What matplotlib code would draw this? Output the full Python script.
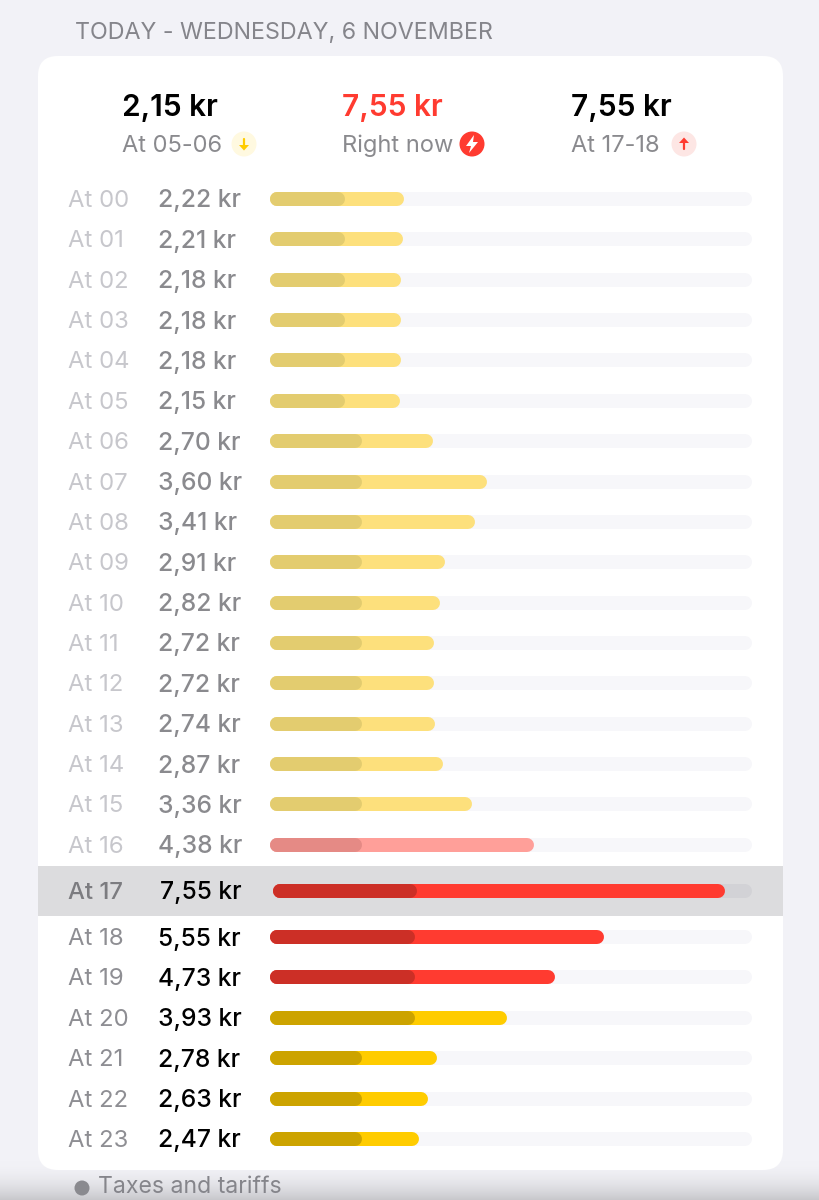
import numpy as np
import matplotlib
matplotlib.use('Agg')
import matplotlib.pyplot as plt
from matplotlib.patches import FancyBboxPatch, Circle, Polygon, Rectangle

hours = ['00', '01', '02', '03', '04', '05', '06', '07', '08', '09', '10', '11',
         '12', '13', '14', '15', '16', '17', '18', '19', '20', '21', '22', '23']
prices = [2.22, 2.21, 2.18, 2.18, 2.18, 2.15, 2.70, 3.60, 3.41, 2.91, 2.82, 2.72,
          2.72, 2.74, 2.87, 3.36, 4.38, 7.55, 5.55, 4.73, 3.93, 2.78, 2.63, 2.47]
taxes = [1.25, 1.25, 1.25, 1.25, 1.25, 1.25, 1.53, 1.53, 1.53, 1.53, 1.53, 1.53,
         1.53, 1.53, 1.53, 1.53, 1.53, 2.40, 2.40, 2.40, 2.40, 1.53, 1.53, 1.53]
summary_values = ['2,15 kr', '7,55 kr', '7,55 kr']
summary_labels = ['At 05-06', 'Right now', 'At 17-18']

NOW = 17
MAX_PRICE = 8.0
W, H = 820, 1200
DPI = 100

plt.rcParams['font.family'] = ['Inter', 'DejaVu Sans']


def fmt(value):
    return f'{value:.2f}'.replace('.', ',') + ' kr'


def row_y(i):
    # the current hour sits in a taller band, so rows after it shift down
    y = 199 + i * 40.36
    if i == NOW:
        y += 5.5
    elif i > NOW:
        y += 11.6
    return y


def bar_colors(i, price):
    if i < NOW:
        return ('#ff9f99', '#e58a85') if price >= 4 else ('#fde07c', '#e3cc6f')
    return ('#ff3b30', '#cc2f26') if price >= 4 else ('#ffcc00', '#cca300')


def round_bar(ax, start, stop, y, color, zorder):
    # round caps stick out by half the line width, pull the ends in by that much
    r = 7 / (482 / MAX_PRICE)
    ax.plot([start + r, stop - r], [y, y], color=color, lw=14 * 72 / DPI,
            solid_capstyle='round', zorder=zorder)


def arrow_icon(ax, x, y, direction, color, back):
    ax.add_patch(Circle((x, y), 12.5, fc=back, ec='none', zorder=3))
    ax.plot([x, x], [y - 5 * direction, y + 2 * direction], color=color, lw=1.6, zorder=4,
            solid_capstyle='round')
    ax.add_patch(Polygon([(x - 5, y + 1 * direction), (x + 5, y + 1 * direction), (x, y + 6.5 * direction)],
                         fc=color, ec='none', zorder=4))


fig = plt.figure(figsize=(W / DPI, H / DPI), dpi=DPI)

# page layer in pixel coordinates, y going down like the screenshot
page = fig.add_axes([0, 0, 1, 1])
page.axis('off')

shade = np.linspace(0, 1, 40)[:, None]
base = np.array([0xf2, 0xf2, 0xf7]) / 255
bottom = np.array([0xc8, 0xc8, 0xcc]) / 255
gradient = base + (bottom - base) * shade[:, :, None] ** 2
page.imshow(np.ones((2, 2, 3)) * base, extent=(0, W, H, 0), aspect='auto', zorder=0)
page.imshow(gradient, extent=(0, W, H, 1160), aspect='auto', zorder=0.5)
page.set_xlim(0, W)
page.set_ylim(H, 0)

page.add_patch(FancyBboxPatch((38 + 20, 56 + 20), 745 - 40, 1114 - 40,
                              boxstyle='round,pad=20,rounding_size=20',
                              fc='white', ec='none', zorder=1))
page.add_patch(Rectangle((38, 866), 745, 50, fc='#dcdcde', ec='none', zorder=2))

page.text(75, 33, 'TODAY - WEDNESDAY, 6 NOVEMBER', fontsize=16.75, color='#85858b',
          va='center', ha='left', zorder=3)
page.add_patch(Circle((82, 1188), 7.5, fc='#8a8a8f', ec='none', zorder=3))
page.text(98, 1198, 'Taxes and tariffs', fontsize=16.6, color='#85858b',
          va='bottom', ha='left', zorder=3)

# summary header
for x, value, label, color in zip([122, 342, 571], summary_values, summary_labels,
                                  ['black', '#ff3b30', 'black']):
    page.text(x, 108, value, fontsize=21.5, fontweight='semibold', color=color,
              va='center', ha='left', zorder=3)
    page.text(x, 146, label, fontsize=17, color='#8a8a8e', va='center', ha='left', zorder=3)

arrow_icon(page, 244, 144, 1, '#ffcc00', '#fff9e0')
arrow_icon(page, 684, 144, -1, '#ff3b30', '#fde6e4')
page.add_patch(Circle((472, 144), 12.5, fc='#ff3b30', ec='none', zorder=3))
page.add_patch(Polygon([(474, 135), (466, 146), (471, 146), (469, 153), (478, 142), (473, 142)],
                       fc='white', ec='none', zorder=4))

# rows
for i, (hour, price) in enumerate(zip(hours, prices)):
    y = row_y(i) + 2
    past = i < NOW
    hour_color = '#c7c7cc' if past else '#8e8e93'
    price_color = '#8a8a8e' if past else 'black'
    if i == NOW:
        hour_color = '#7c7c80'
    page.text(68, y, f'At {hour}', fontsize=17.2, color=hour_color, va='center', ha='left',
              zorder=3, fontweight='medium' if i == NOW else 'normal')
    page.text(158.5 + (1.5 if i == NOW else 0), y, fmt(price), fontsize=17.7, color=price_color,
              va='center', ha='left', zorder=3, fontweight='medium')

# bars use a kr scale across the 482 px track
bars = fig.add_axes([270 / W, 0, 482 / W, 1], zorder=5)
bars.patch.set_alpha(0)
bars.axis('off')
bars.set_xlim(0, MAX_PRICE)
bars.set_ylim(H, 0)

for i, (price, tax) in enumerate(zip(prices, taxes)):
    y = row_y(i)
    light, dark = bar_colors(i, price)
    # current row is inset a little, its whole track is squeezed to fit
    offset = 0.05 if i == NOW else 0
    squeeze = (MAX_PRICE - offset) / MAX_PRICE
    track = '#d2d2d6' if i == NOW else '#f7f7fa'
    round_bar(bars, offset, MAX_PRICE, y, track, 1)
    round_bar(bars, offset, offset + price * squeeze, y, light, 2)
    round_bar(bars, offset, offset + tax * squeeze, y, dark, 3)

fig.savefig('out.png', dpi=DPI)
